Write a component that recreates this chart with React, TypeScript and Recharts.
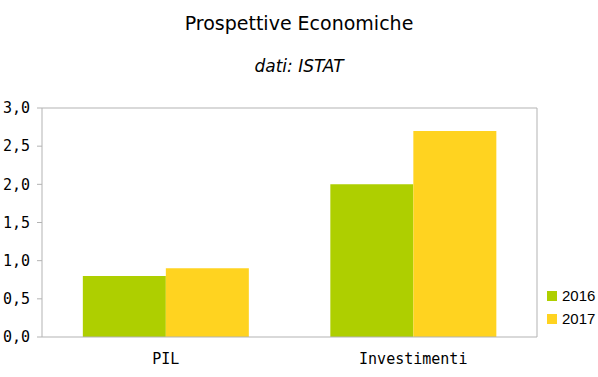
import React from "react";
import {
  BarChart,
  Bar,
  Line,
  XAxis,
  YAxis,
  ReferenceLine,
} from "recharts";

const CATEGORIES = ["PIL", "Investimenti"];
const SERIES_2016 = [0.8, 2.0];
const SERIES_2017 = [0.9, 2.7];
const Y_TICKS = [0, 0.5, 1, 1.5, 2, 2.5, 3];

const COLORS = { y2016: "#aecf00", y2017: "#ffd320" };
const AXIS = "#b3b3b3";

const data = CATEGORIES.map((name, i) => ({
  name,
  idx: i,
  y2016: SERIES_2016[i],
  y2017: SERIES_2017[i],
}));

const fmt = (v: number) => v.toFixed(1).replace(".", ",");

const LEGEND = [
  { label: "2016", color: COLORS.y2016 },
  { label: "2017", color: COLORS.y2017 },
];

export default function App() {
  return (
    <div style={{ position: "absolute", left: 0, top: 0, width: 598, height: 377, background: "#fff" }}>
      <div
        style={{
          position: "absolute",
          top: 12,
          width: 598,
          textAlign: "center",
          fontFamily: "'DejaVu Sans', sans-serif",
          fontSize: 19,
        }}
      >
        Prospettive Economiche
      </div>
      <div
        style={{
          position: "absolute",
          top: 56,
          width: 598,
          textAlign: "center",
          fontFamily: "'DejaVu Sans', sans-serif",
          fontSize: 17,
          fontStyle: "italic",
        }}
      >
        dati: ISTAT
      </div>
      {/* legenda a destra */}
      <div
        style={{
          position: "absolute",
          left: 547,
          top: 284,
          fontFamily: "'Liberation Sans', Arial, sans-serif",
          fontSize: 15,
        }}
      >
        {LEGEND.map((it) => (
          <div key={it.label} style={{ display: "flex", alignItems: "center", height: 23 }}>
            <span
              style={{ width: 10, height: 10, background: it.color, display: "inline-block", marginRight: 5 }}
            />
            <span>{it.label}</span>
          </div>
        ))}
      </div>
      <div style={{ position: "absolute", left: 0, top: 0 }}>
        <BarChart
          width={598}
          height={377}
          data={data}
          margin={{ top: 108, right: 60, bottom: 0, left: 0 }}
          barCategoryGap="16.5%"
          barGap={0}
        >
          {/* tacche ai confini delle categorie */}
          <XAxis
            xAxisId="grid"
            dataKey="idx"
            type="number"
            domain={[0, 2]}
            ticks={[0, 1, 2]}
            tickFormatter={() => ""}
            tickSize={5}
            tickLine={{ stroke: AXIS }}
            axisLine={false}
            height={0}
          />
          <XAxis
            dataKey="name"
            tickLine={false}
            axisLine={{ stroke: AXIS }}
            height={40}
            tickMargin={10}
            tick={{ fill: "#000", fontFamily: "'DejaVu Sans Mono', monospace", fontSize: 15 }}
          />
          <YAxis
            domain={[0, 3]}
            ticks={Y_TICKS}
            width={42}
            tickSize={5}
            tickMargin={7}
            tickFormatter={fmt}
            axisLine={{ stroke: AXIS }}
            tickLine={{ stroke: AXIS }}
            tick={{ fill: "#000", fontFamily: "'DejaVu Sans Mono', monospace", fontSize: 15 }}
          />
          <YAxis
            yAxisId="right"
            orientation="right"
            domain={[0, 3]}
            width={1}
            ticks={[]}
            tickLine={false}
            axisLine={{ stroke: AXIS }}
          />
          <ReferenceLine y={3} stroke={AXIS} />
          <Bar dataKey="y2016" name="2016" fill={COLORS.y2016} isAnimationActive={false} />
          <Bar dataKey="y2017" name="2017" fill={COLORS.y2017} isAnimationActive={false} />
          <Line
            xAxisId="grid"
            yAxisId="right"
            dataKey="y2016"
            stroke="none"
            dot={false}
            activeDot={false}
            legendType="none"
            isAnimationActive={false}
          />
        </BarChart>
      </div>
    </div>
  );
}
